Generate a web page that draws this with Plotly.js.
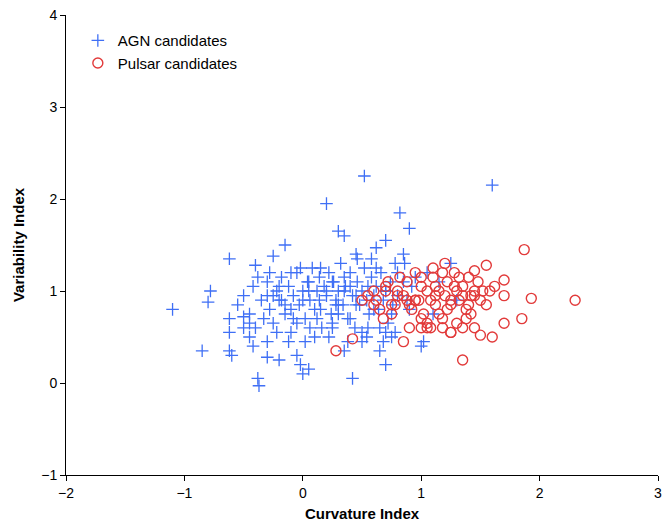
<!DOCTYPE html>
<html><head><meta charset="utf-8">
<script src="https://cdn.plot.ly/plotly-3.0.1.min.js"></script>
<style>body{margin:0}</style></head>
<body><div id="chart" style="width:663px;height:525px"></div>
<script>
// AGN candidates
var agnX = [-1.1,-0.85,-0.78,-0.8,-0.62,-0.62,-0.62,-0.62,-0.6,-0.5,-0.45,-0.4,-0.38,-0.37,-0.3,-0.3,-0.25,-0.2,-0.15,-0.05,-0.02,0,0.05,0.2,0.3,0.35,0.42,0.45,0.52,0.62,0.7,0.7,0.82,0.9,1.0,1.6,1.02,0.35,0.5,
  -0.55,-0.5,-0.45,-0.42,-0.4,-0.35,-0.33,-0.3,-0.28,-0.25,-0.22,-0.2,-0.18,-0.15,-0.12,-0.1,-0.08,-0.05,-0.03,0,0.02,0.04,0.06,0.08,0.1,0.12,0.14,0.16,0.18,0.2,0.22,0.24,0.26,0.28,0.3,0.32,0.34,0.36,0.38,0.4,0.42,0.44,0.46,0.48,0.5,0.52,0.54,0.56,0.58,0.6,0.62,0.64,0.66,0.68,0.7,0.72,0.74,0.76,0.78,0.8,0.85,0.9,
  -0.45,-0.38,-0.3,-0.22,-0.15,-0.1,-0.05,0,0.05,0.1,0.15,0.2,0.25,0.3,0.35,0.4,0.45,0.5,0.55,0.6,0.65,0.7,0.75,0.8,0.88,0.95,
  -0.28,-0.2,-0.12,-0.02,0.06,0.14,0.22,0.3,0.38,0.46,0.54,0.62,0.7,0.78,0.86,1.05,1.15,1.25,
  -0.5,-0.42,-0.25,-0.1,0.02,0.12,0.25,0.35,0.45,0.55,0.65,0.75,0.15,0.05,-0.08,0.28,0.4,0.58,0.68,1.1,1.3,0.92,0.85,0.25,-0.18],
agnY = [0.8,0.35,1.0,0.88,1.35,0.7,0.55,0.35,0.3,0.72,0.65,1.28,0.05,-0.03,0.45,0.28,1.38,0.25,1.5,0.3,0.2,0.1,0.15,1.95,1.65,1.6,0.05,1.4,2.25,1.47,0.2,1.55,1.85,1.68,0.4,2.15,0.45,0.35,0.45,
  0.85,0.95,0.75,1.05,0.6,0.9,0.7,1.1,0.8,0.65,1.0,0.9,1.15,0.75,1.05,0.55,0.95,1.2,0.85,1.0,0.7,1.1,0.9,1.25,0.8,1.0,1.15,0.6,1.05,0.95,1.2,0.75,1.1,0.9,1.0,1.3,0.85,1.05,0.7,1.2,0.95,0.6,1.1,0.85,1.0,1.25,0.9,0.75,1.15,0.95,1.05,0.8,1.2,0.9,1.0,0.65,1.1,0.85,1.3,0.95,1.1,0.8,
  0.5,1.15,0.95,0.55,0.85,1.2,0.65,0.9,1.1,0.5,0.8,1.0,0.6,0.85,1.15,0.7,0.95,0.55,1.05,0.8,0.6,1.0,0.75,1.2,0.9,1.15,
  1.2,1.05,0.45,1.25,0.6,0.9,0.5,0.75,0.45,1.35,0.5,1.25,0.55,0.55,1.3,1.2,1.1,1.3,
  0.6,0.4,0.95,0.8,0.45,0.7,0.65,1.0,0.85,0.6,0.35,0.5,1.25,1.0,0.7,0.85,1.05,1.35,0.45,0.75,0.9,1.05,1.4,1.1,0.9];
// Pulsar candidates
var psrX = [0.28,0.42,0.5,0.6,0.68,0.78,0.85,1.0,1.35,1.25,1.45,1.5,1.55,1.6,1.7,1.7,1.85,1.87,1.93,2.3,1.55,1.7,1.45,1.2,
  0.55,0.62,0.7,0.75,0.8,0.85,0.88,0.92,0.95,1.0,1.02,1.05,1.08,1.1,1.12,1.15,1.18,1.2,1.22,1.25,1.28,1.3,1.32,1.35,1.38,1.4,1.42,1.45,1.48,1.5,1.52,
  0.65,0.72,0.8,0.9,0.98,1.05,1.12,1.18,1.25,1.32,1.38,1.45,0.6,0.75,0.95,1.08,1.15,1.28,1.4,0.82,1.0,1.1,1.22,1.35,0.9,1.05,1.18,1.3,1.42,0.7,0.88,1.12,1.25,1.58,1.62,1.35,1.0,0.95],
psrY = [0.35,0.48,0.9,1.0,0.7,0.85,0.45,0.6,0.25,0.55,0.6,0.52,0.85,0.5,0.65,0.95,0.7,1.45,0.92,0.9,1.28,1.12,1.22,1.3,
  0.95,0.9,1.05,0.85,1.0,0.95,1.1,0.8,0.9,1.05,0.75,1.0,0.9,1.15,0.85,1.0,0.7,0.95,1.1,0.85,1.2,1.0,0.9,1.05,0.8,1.15,0.95,1.0,1.1,0.9,1.0,
  0.8,1.1,0.95,0.6,0.9,0.65,1.05,0.6,0.9,1.15,0.7,0.95,0.85,0.75,1.2,0.6,0.75,1.05,0.85,1.15,0.7,1.25,0.8,0.6,0.85,0.6,1.2,0.65,0.75,1.0,0.9,0.95,0.55,1.0,1.05,0.95,1.15,0.9];

var traces = [
  {x: agnX, y: agnY, mode: 'markers', type: 'scatter', name: 'AGN candidates',
   marker: {symbol: 'cross-thin-open', size: 9, color: '#3f6ff5', line: {width: 1.3, color: '#3f6ff5'}}},
  {x: psrX, y: psrY, mode: 'markers', type: 'scatter', name: 'Pulsar candidates',
   marker: {symbol: 'circle-open', size: 10, color: '#e23a3a', line: {width: 1.4, color: '#e23a3a'}}}
];

var axisCommon = {showgrid: false, zeroline: false, showline: true, linecolor: '#000', linewidth: 1,
  ticks: 'outside', ticklen: 5, tickcolor: '#000', tickfont: {family: 'Liberation Sans, Arial', size: 14, color: '#000'}};

var layout = {
  width: 663, height: 525,
  margin: {l: 66, r: 5, t: 15, b: 50},
  paper_bgcolor: '#fff', plot_bgcolor: '#fff',
  showlegend: true,
  legend: {x: 0.02, y: 0.98, bgcolor: 'rgba(0,0,0,0)', font: {family: 'Liberation Sans, Arial', size: 15, color: '#000'}},
  xaxis: Object.assign({}, axisCommon, {range: [-2, 3], dtick: 1,
    title: {text: '<b>Curvature Index</b>', font: {family: 'Liberation Sans, Arial', size: 15, color: '#000'}, standoff: 8}}),
  yaxis: Object.assign({}, axisCommon, {range: [-1, 4], dtick: 1,
    title: {text: '<b>Variability Index</b>', font: {family: 'Liberation Sans, Arial', size: 15, color: '#000'}, standoff: 12}})
};

Plotly.newPlot('chart', traces, layout, {displayModeBar: false});
</script></body></html>
